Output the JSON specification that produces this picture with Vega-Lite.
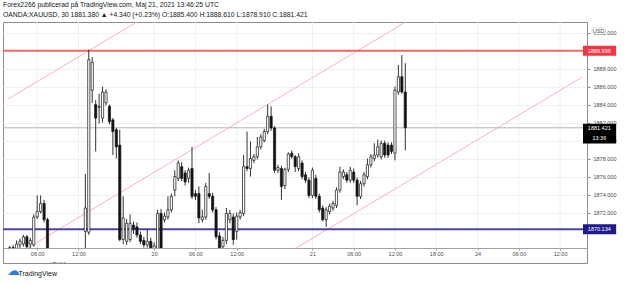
{
  "$schema": "https://vega.github.io/schema/vega-lite/v6.json",
  "autosize": {"type": "none"},
  "padding": {"left": 3, "top": 22, "right": 38, "bottom": 20},
  "width": 584,
  "height": 241,
  "background": "#ffffff",
  "title": {
    "text": "Forex2266 publicerad på TradingView.com, Maj 21, 2021 13:46:25 UTC",
    "subtitle": "OANDA:XAUUSD, 30  1881.380 ▲ +4.340 (+0.23%)  O:1885.400 H:1888.610 L:1878.910 C:1881.421",
    "anchor": "start",
    "frame": "group",
    "font": "Liberation Sans",
    "fontSize": 6.8,
    "fontWeight": "normal",
    "color": "#131722",
    "subtitleFont": "Liberation Sans",
    "subtitleFontSize": 6.8,
    "subtitleColor": "#131722",
    "subtitlePadding": 3,
    "offset": 3
  },
  "config": {
    "view": {"stroke": "#8c8c8c", "strokeWidth": 1},
    "font": "Liberation Sans",
    "axis": {"labelOverlap": false, "labelFlush": false, "labelBound": false}
  },
  "resolve": {"axis": {"x": "independent", "y": "independent"}},
  "datasets": {
    "candles": [
      {"i": 0, "o": 1867.9, "h": 1868.3, "l": 1867.6, "c": 1868.1},
      {"i": 1, "o": 1868.1, "h": 1868.4, "l": 1867.8, "c": 1868.0},
      {"i": 2, "o": 1868.0, "h": 1868.9, "l": 1867.9, "c": 1868.5},
      {"i": 3, "o": 1868.4, "h": 1869.1, "l": 1868.0, "c": 1868.8},
      {"i": 4, "o": 1868.5, "h": 1869.5, "l": 1868.2, "c": 1869.3},
      {"i": 5, "o": 1869.3, "h": 1869.5, "l": 1867.9, "c": 1868.2},
      {"i": 6, "o": 1868.5, "h": 1869.2, "l": 1867.8, "c": 1868.9},
      {"i": 7, "o": 1868.4, "h": 1871.8, "l": 1868.2, "c": 1871.5},
      {"i": 8, "o": 1871.5, "h": 1873.9, "l": 1871.3, "c": 1872.1},
      {"i": 9, "o": 1872.1, "h": 1873.9, "l": 1871.9, "c": 1873.0},
      {"i": 10, "o": 1873.0, "h": 1873.4, "l": 1870.9, "c": 1871.2},
      {"i": 11, "o": 1871.2, "h": 1871.4, "l": 1867.2, "c": 1867.5},
      {"i": 12, "o": 1867.5, "h": 1867.8, "l": 1866.4, "c": 1866.8},
      {"i": 13, "o": 1866.8, "h": 1867.3, "l": 1865.9, "c": 1866.2},
      {"i": 14, "o": 1866.2, "h": 1867.4, "l": 1865.8, "c": 1866.9},
      {"i": 15, "o": 1866.9, "h": 1867.5, "l": 1866.1, "c": 1866.5},
      {"i": 16, "o": 1866.5, "h": 1867.7, "l": 1866.2, "c": 1867.2},
      {"i": 17, "o": 1867.2, "h": 1867.6, "l": 1866.5, "c": 1866.9},
      {"i": 18, "o": 1866.9, "h": 1867.8, "l": 1866.6, "c": 1867.4},
      {"i": 19, "o": 1867.4, "h": 1867.9, "l": 1867.0, "c": 1867.6},
      {"i": 20, "o": 1867.6, "h": 1867.9, "l": 1867.2, "c": 1867.8},
      {"i": 21, "o": 1867.8, "h": 1868.0, "l": 1867.4, "c": 1867.9},
      {"i": 22, "o": 1869.9, "h": 1876.3, "l": 1867.6, "c": 1872.5},
      {"i": 23, "o": 1869.8, "h": 1890.1, "l": 1869.5, "c": 1889.0},
      {"i": 24, "o": 1885.6, "h": 1889.3, "l": 1884.2, "c": 1888.7},
      {"i": 25, "o": 1884.0, "h": 1884.5, "l": 1878.8, "c": 1882.5},
      {"i": 26, "o": 1883.7, "h": 1885.2, "l": 1881.9, "c": 1883.8},
      {"i": 27, "o": 1882.5, "h": 1886.0, "l": 1882.0, "c": 1885.4},
      {"i": 28, "o": 1884.2, "h": 1885.7, "l": 1883.9, "c": 1885.4},
      {"i": 29, "o": 1883.8, "h": 1884.0, "l": 1881.8, "c": 1882.1},
      {"i": 30, "o": 1882.3, "h": 1882.5, "l": 1878.4, "c": 1881.0},
      {"i": 31, "o": 1881.2, "h": 1881.4, "l": 1878.0, "c": 1879.3},
      {"i": 32, "o": 1879.5, "h": 1881.2, "l": 1868.8, "c": 1869.0},
      {"i": 33, "o": 1869.0, "h": 1873.8, "l": 1868.5, "c": 1871.4},
      {"i": 34, "o": 1868.8, "h": 1871.3, "l": 1868.4, "c": 1870.8},
      {"i": 35, "o": 1869.0, "h": 1871.8, "l": 1868.7, "c": 1870.8},
      {"i": 36, "o": 1870.6, "h": 1871.0, "l": 1869.6, "c": 1870.2},
      {"i": 37, "o": 1870.4, "h": 1870.9, "l": 1869.2, "c": 1869.5},
      {"i": 38, "o": 1869.5, "h": 1869.9, "l": 1868.5, "c": 1868.8},
      {"i": 39, "o": 1868.9, "h": 1869.3, "l": 1868.1, "c": 1868.4},
      {"i": 40, "o": 1868.4, "h": 1870.1, "l": 1868.1, "c": 1868.8},
      {"i": 41, "o": 1868.8, "h": 1869.2, "l": 1867.6, "c": 1867.9},
      {"i": 42, "o": 1867.9, "h": 1868.7, "l": 1867.6, "c": 1868.3},
      {"i": 43, "o": 1868.0, "h": 1872.3, "l": 1867.6, "c": 1871.9},
      {"i": 44, "o": 1871.9, "h": 1872.4, "l": 1867.5, "c": 1867.8},
      {"i": 45, "o": 1871.2, "h": 1872.0, "l": 1870.9, "c": 1871.6},
      {"i": 46, "o": 1871.5, "h": 1873.8, "l": 1871.2, "c": 1872.3},
      {"i": 47, "o": 1872.3, "h": 1874.1, "l": 1872.0, "c": 1873.8},
      {"i": 48, "o": 1874.5, "h": 1876.7, "l": 1873.8, "c": 1876.0},
      {"i": 49, "o": 1875.8, "h": 1877.8, "l": 1875.5, "c": 1877.5},
      {"i": 50, "o": 1877.1, "h": 1877.6, "l": 1875.5, "c": 1875.8},
      {"i": 51, "o": 1876.4, "h": 1876.7, "l": 1875.0, "c": 1875.4},
      {"i": 52, "o": 1875.8, "h": 1877.0, "l": 1875.3, "c": 1876.7},
      {"i": 53, "o": 1876.9, "h": 1879.3, "l": 1873.5, "c": 1873.8},
      {"i": 54, "o": 1874.1, "h": 1874.5, "l": 1873.4, "c": 1873.8},
      {"i": 55, "o": 1874.1, "h": 1874.9, "l": 1870.8, "c": 1871.4},
      {"i": 56, "o": 1871.2, "h": 1872.3, "l": 1870.9, "c": 1871.5},
      {"i": 57, "o": 1871.5, "h": 1875.3, "l": 1871.2, "c": 1874.9},
      {"i": 58, "o": 1874.1, "h": 1876.4, "l": 1873.5, "c": 1873.8},
      {"i": 59, "o": 1873.8, "h": 1874.2, "l": 1872.0, "c": 1872.3},
      {"i": 60, "o": 1872.3, "h": 1872.6, "l": 1869.0, "c": 1869.3},
      {"i": 61, "o": 1869.4, "h": 1869.8, "l": 1867.5, "c": 1867.8},
      {"i": 62, "o": 1868.2, "h": 1869.3, "l": 1867.7, "c": 1868.9},
      {"i": 63, "o": 1868.9, "h": 1872.5, "l": 1868.5, "c": 1871.9},
      {"i": 64, "o": 1871.2, "h": 1872.3, "l": 1870.8, "c": 1871.9},
      {"i": 65, "o": 1871.5, "h": 1871.9, "l": 1868.4, "c": 1869.0},
      {"i": 66, "o": 1869.9, "h": 1872.0, "l": 1869.0, "c": 1871.6},
      {"i": 67, "o": 1871.5, "h": 1872.3, "l": 1871.2, "c": 1872.0},
      {"i": 68, "o": 1871.9, "h": 1878.4, "l": 1871.6, "c": 1877.1},
      {"i": 69, "o": 1877.1, "h": 1881.0, "l": 1876.6, "c": 1876.9},
      {"i": 70, "o": 1876.9, "h": 1879.9, "l": 1876.0, "c": 1878.0},
      {"i": 71, "o": 1877.8, "h": 1878.5, "l": 1877.5, "c": 1878.2},
      {"i": 72, "o": 1878.2, "h": 1880.4, "l": 1877.9, "c": 1879.3},
      {"i": 73, "o": 1879.3, "h": 1880.7, "l": 1879.0, "c": 1880.4},
      {"i": 74, "o": 1880.0, "h": 1881.3, "l": 1879.8, "c": 1881.0},
      {"i": 75, "o": 1881.0, "h": 1884.0, "l": 1880.7, "c": 1882.7},
      {"i": 76, "o": 1882.7, "h": 1883.8, "l": 1881.1, "c": 1881.4},
      {"i": 77, "o": 1881.4, "h": 1881.6, "l": 1876.4, "c": 1876.7},
      {"i": 78, "o": 1876.7, "h": 1877.3, "l": 1876.4, "c": 1877.0},
      {"i": 79, "o": 1876.9, "h": 1877.2, "l": 1873.4, "c": 1874.9},
      {"i": 80, "o": 1875.0, "h": 1877.0, "l": 1874.6, "c": 1876.8},
      {"i": 81, "o": 1876.8, "h": 1878.7, "l": 1876.5, "c": 1878.5},
      {"i": 82, "o": 1878.6, "h": 1878.9, "l": 1878.0, "c": 1878.2},
      {"i": 83, "o": 1878.2, "h": 1878.4, "l": 1876.5, "c": 1877.1},
      {"i": 84, "o": 1876.9, "h": 1878.6, "l": 1876.6, "c": 1878.2},
      {"i": 85, "o": 1877.5, "h": 1877.8, "l": 1875.7, "c": 1876.0},
      {"i": 86, "o": 1876.2, "h": 1876.5, "l": 1875.3, "c": 1875.6},
      {"i": 87, "o": 1875.6, "h": 1875.9, "l": 1873.6, "c": 1873.9},
      {"i": 88, "o": 1873.9, "h": 1877.0, "l": 1873.6, "c": 1876.7},
      {"i": 89, "o": 1875.8, "h": 1876.2, "l": 1873.5, "c": 1873.8},
      {"i": 90, "o": 1873.8, "h": 1874.1, "l": 1872.0, "c": 1872.3},
      {"i": 91, "o": 1872.5, "h": 1872.8, "l": 1871.0, "c": 1871.2},
      {"i": 92, "o": 1871.2, "h": 1872.6, "l": 1870.4, "c": 1872.3},
      {"i": 93, "o": 1872.1, "h": 1873.0, "l": 1871.8, "c": 1872.7},
      {"i": 94, "o": 1872.5, "h": 1873.3, "l": 1872.2, "c": 1873.0},
      {"i": 95, "o": 1872.8, "h": 1874.8, "l": 1872.5, "c": 1874.5},
      {"i": 96, "o": 1874.5, "h": 1877.1, "l": 1874.2, "c": 1876.5},
      {"i": 97, "o": 1876.0, "h": 1876.8, "l": 1875.7, "c": 1876.5},
      {"i": 98, "o": 1876.2, "h": 1876.5, "l": 1875.3, "c": 1875.6},
      {"i": 99, "o": 1875.6, "h": 1877.1, "l": 1875.3, "c": 1876.7},
      {"i": 100, "o": 1876.5, "h": 1876.9, "l": 1875.3, "c": 1875.6},
      {"i": 101, "o": 1875.6, "h": 1875.9, "l": 1872.8, "c": 1873.8},
      {"i": 102, "o": 1873.8, "h": 1875.5, "l": 1873.5, "c": 1875.2},
      {"i": 103, "o": 1875.2, "h": 1876.5, "l": 1874.9, "c": 1876.2},
      {"i": 104, "o": 1876.0, "h": 1878.0, "l": 1875.7, "c": 1877.3},
      {"i": 105, "o": 1877.3, "h": 1878.5, "l": 1877.0, "c": 1878.2},
      {"i": 106, "o": 1878.0, "h": 1879.7, "l": 1877.7, "c": 1878.4},
      {"i": 107, "o": 1878.4, "h": 1880.1, "l": 1878.1, "c": 1879.3},
      {"i": 108, "o": 1878.2, "h": 1880.0, "l": 1877.9, "c": 1879.7},
      {"i": 109, "o": 1879.7, "h": 1880.0, "l": 1878.1, "c": 1878.4},
      {"i": 110, "o": 1879.5, "h": 1879.8, "l": 1878.1, "c": 1878.4},
      {"i": 111, "o": 1879.5, "h": 1879.8, "l": 1878.5, "c": 1878.8},
      {"i": 112, "o": 1878.6, "h": 1886.0, "l": 1877.8, "c": 1885.6},
      {"i": 113, "o": 1885.4, "h": 1888.4, "l": 1885.1, "c": 1887.1},
      {"i": 114, "o": 1887.1, "h": 1889.5, "l": 1885.2, "c": 1885.4},
      {"i": 115, "o": 1885.4, "h": 1888.61, "l": 1878.91, "c": 1881.421}
    ],
    "ticks": [
      {"i": 8, "t": "06:00"}, {"i": 20, "t": "12:00"}, {"i": 42, "t": "20"},
      {"i": 54, "t": "06:00"}, {"i": 66, "t": "12:00"}, {"i": 88, "t": "21"},
      {"i": 100, "t": "06:00"}, {"i": 112, "t": "12:00"}, {"i": 124, "t": "18:00"},
      {"i": 136, "t": "24"}, {"i": 148, "t": "06:00"}, {"i": 160, "t": "12:00"}
    ],
    "channel": [
      {"line": "upper", "i": -0.6, "p": 1884.6},
      {"line": "upper", "i": 36.95, "p": 1893.19},
      {"line": "middle", "i": 5.16, "p": 1868.05},
      {"line": "middle", "i": 115.1, "p": 1893.19},
      {"line": "lower", "i": 83.3, "p": 1868.05},
      {"line": "lower", "i": 166.4, "p": 1887.05}
    ],
    "tags": [
      {"kind": "res", "level": 1889.996, "label": "1889.996", "sub": ""},
      {"kind": "sup", "level": 1870.134, "label": "1870.134", "sub": ""},
      {"kind": "last", "level": 1881.421, "label": "1881.421", "sub": "13:36"}
    ]
  },
  "data": {"values": [{}]},
  "layer": [
    {
      "description": "vertical time grid, limited to the price pane; carries both axes",
      "data": {"name": "ticks"},
      "mark": {"type": "rule", "color": "#eef0f4", "strokeWidth": 1},
      "encoding": {
        "x": {"field": "i", "type": "quantitative", "scale": {"domain": [-0.486, 166.37], "nice": false, "zero": false},
          "axis": {
            "orient": "bottom", "offset": -15, "zindex": 1,
            "values": [8, 20, 42, 54, 66, 88, 100, 112, 124, 136, 148, 160],
            "labelExpr": "['06:00','12:00','20','06:00','12:00','21','06:00','12:00','18:00','24','06:00','12:00'][indexof([8,20,42,54,66,88,100,112,124,136,148,160], datum.value)]",
            "grid": false, "domainColor": "#a0a0a0", "tickColor": "#a0a0a0", "tickSize": 2,
            "labelFontSize": 5.5, "labelColor": "#4a4a4a", "labelPadding": 1.5,
            "labelFlush": false, "labelOverlap": false,
            "title": "TradingView", "titleFontSize": 7, "titleFontWeight": "normal", "titleColor": "#131722",
            "titleAnchor": "start", "titleAlign": "left", "titleBaseline": "middle", "titleX": 15, "titleY": 25
          }},
        "y": {"datum": 1868.05, "type": "quantitative", "scale": {"domain": [1866.386, 1893.188], "nice": false, "zero": false},
          "axis": {
            "orient": "right", "values": [1872, 1874, 1876, 1878, 1880, 1882, 1884, 1886, 1888, 1892],
            "format": ".3f", "labelFontSize": 5.5, "labelColor": "#4a4a4a", "tickSize": 3, "tickColor": "#8a8a8a",
            "labelPadding": 3, "labelOverlap": false, "labelFlush": false, "labelBound": false,
            "domain": false, "grid": true, "gridColor": "#eef0f4", "title": null
          }},
        "y2": {"datum": 1893.188}
      }
    },
    {
      "description": "parallel channel",
      "data": {"name": "channel"},
      "mark": {"type": "line", "color": "#f7b3c4", "strokeWidth": 1, "clip": true},
      "encoding": {
        "x": {"field": "i", "type": "quantitative", "axis": null},
        "y": {"field": "p", "type": "quantitative", "axis": null},
        "detail": {"field": "line"}
      }
    },
    {
      "description": "last price line",
      "mark": {"type": "rule", "color": "#b4b4b4", "strokeWidth": 1},
      "encoding": {"y": {"datum": 1881.421, "type": "quantitative", "axis": null}}
    },
    {
      "description": "resistance and support levels",
      "data": {"name": "tags"},
      "transform": [{"filter": "datum.kind !== 'last'"}],
      "mark": {"type": "rule", "strokeWidth": 2},
      "encoding": {
        "y": {"field": "level", "type": "quantitative", "axis": null},
        "color": {"field": "kind", "type": "nominal", "scale": {"domain": ["res", "sup"], "range": ["#f4675f", "#4b44a6"]}, "legend": null}
      }
    },
    {
      "description": "wicks",
      "data": {"name": "candles"},
      "mark": {"type": "rule", "color": "#1c1c1c", "strokeWidth": 0.9, "clip": true},
      "encoding": {
        "x": {"field": "i", "type": "quantitative", "axis": null},
        "y": {"field": "l", "type": "quantitative", "axis": null},
        "y2": {"field": "h"}
      }
    },
    {
      "description": "bodies: hollow when up, filled when down",
      "data": {"name": "candles"},
      "mark": {"type": "bar", "size": 2.2, "stroke": "#141414", "strokeWidth": 0.7, "clip": true},
      "encoding": {
        "x": {"field": "i", "type": "quantitative", "axis": null},
        "y": {"field": "o", "type": "quantitative", "axis": null},
        "y2": {"field": "c"},
        "fill": {"condition": {"test": "datum.c >= datum.o", "value": "#ffffff"}, "value": "#141414"}
      }
    },
    {
      "description": "time scale band below the price pane",
      "mark": {"type": "rect", "fill": "#ffffff"},
      "encoding": {
        "x": {"datum": -0.33, "type": "quantitative", "axis": null},
        "x2": {"datum": 166.22},
        "y": {"datum": 1866.45, "type": "quantitative", "axis": null},
        "y2": {"datum": 1868.05}
      }
    },
    {
      "description": "price tags on the scale",
      "data": {"name": "tags"},
      "transform": [
        {"calculate": "datum.kind === 'last' ? datum.level + 0.45 : datum.level + 0.56", "as": "hi"},
        {"calculate": "datum.kind === 'last' ? datum.level - 1.75 : datum.level - 0.56", "as": "lo"}
      ],
      "mark": {"type": "rect"},
      "encoding": {
        "x": {"datum": 166.66, "type": "quantitative", "axis": null},
        "x2": {"datum": 176.3},
        "y": {"field": "hi", "type": "quantitative", "axis": null},
        "y2": {"field": "lo"},
        "fill": {"field": "kind", "type": "nominal", "scale": {"domain": ["res", "sup", "last"], "range": ["#f23645", "#1f1a8c", "#000000"]}, "legend": null}
      }
    },
    {
      "data": {"name": "tags"},
      "mark": {"type": "text", "color": "#ffffff", "fontSize": 5.5, "align": "center", "baseline": "middle"},
      "encoding": {
        "x": {"datum": 171.4, "type": "quantitative", "axis": null},
        "y": {"field": "level", "type": "quantitative", "axis": null},
        "text": {"field": "label"}
      }
    },
    {
      "data": {"name": "tags"},
      "mark": {"type": "text", "color": "#ffffff", "fontSize": 5.5, "align": "center", "baseline": "middle", "dy": 10},
      "encoding": {
        "x": {"datum": 171.4, "type": "quantitative", "axis": null},
        "y": {"field": "level", "type": "quantitative", "axis": null},
        "text": {"field": "sub"}
      }
    },
    {
      "description": "currency badge",
      "mark": {"type": "rect", "fill": "#ffffff", "stroke": "#c9c9c9", "strokeWidth": 0.6, "cornerRadius": 2},
      "encoding": {
        "x": {"datum": 169.2, "type": "quantitative", "axis": null},
        "x2": {"datum": 173.2},
        "y": {"datum": 1892.55, "type": "quantitative", "axis": null},
        "y2": {"datum": 1891.85}
      }
    },
    {
      "mark": {"type": "text", "color": "#4a4a4a", "fontSize": 5.5, "align": "center", "baseline": "middle"},
      "encoding": {
        "x": {"datum": 171.2, "type": "quantitative", "axis": null},
        "y": {"datum": 1892.2, "type": "quantitative", "axis": null},
        "text": {"value": "USD"}
      }
    },
    {
      "description": "brand mark",
      "mark": {"type": "text", "color": "#2a7be4", "fontSize": 13, "align": "center", "baseline": "middle"},
      "encoding": {
        "x": {"datum": 1.2, "type": "quantitative", "axis": null},
        "y": {"datum": 1865.45, "type": "quantitative", "axis": null},
        "text": {"value": "☁"}
      }
    }
  ]
}
